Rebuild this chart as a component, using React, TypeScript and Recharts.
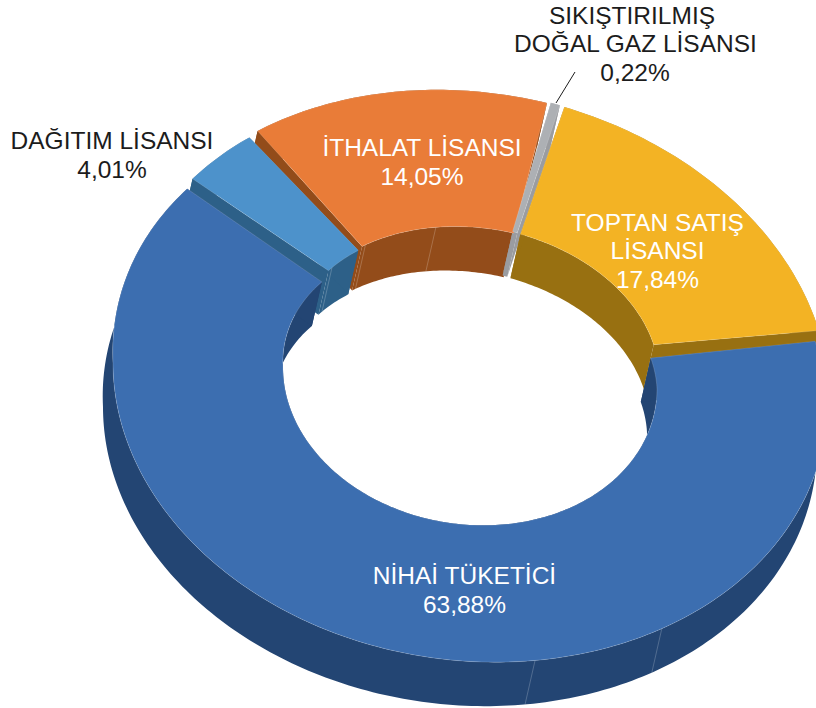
import React from "react";
import { PieChart, Pie } from "recharts";

const categories = ["NİHAİ TÜKETİCİ", "DAĞITIM LİSANSI", "İTHALAT LİSANSI", "SIKIŞTIRILMIŞ DOĞAL GAZ LİSANSI", "TOPTAN SATIŞ LİSANSI"];
const shares = [63.88, 4.01, 14.05, 0.22, 17.84];
const data = categories.map((name, i) => ({ name, value: shares[i] }));

const topColors = ["#3C6EB0", "#4D92CB", "#E97C38", "#ADB0B4", "#F3B324"];
const wallColors = ["#234573", "#2D6088", "#934C1A", "#9A9CA0", "#987011"];
const explode = [[0, 0], [8, -12.5], [7, -14], [0.5, -17], [2, -16]];
const angleTweak = [[-1.7, 1], [0.3, -0.9], [1, -0.4], [1.3, 2.0], [2.5, -0.6]];
const outerSeams = [[147.5, 169.5], [], [], [], []];
const innerSeams = [[], [311], [325.7, 349.6], [], []];

const labelLines = [
  { lines: ["NİHAİ TÜKETİCİ", "63,88%"], x: [464.5, 464.5], y: [584, 613], fill: "#fff" },
  { lines: ["DAĞITIM LİSANSI", "4,01%"], x: [112, 112], y: [149, 178], fill: "#1c1c1c" },
  { lines: ["İTHALAT LİSANSI", "14,05%"], x: [422, 422], y: [156, 185], fill: "#fff" },
  { lines: ["SIKIŞTIRILMIŞ", "DOĞAL GAZ LİSANSI", "0,22%"], x: [632, 635.5, 635], y: [24, 52, 81], fill: "#1c1c1c" },
  { lines: ["TOPTAN SATIŞ", "LİSANSI", "17,84%"], x: [657.5, 657.5, 657.5], y: [231, 259, 288], fill: "#fff" },
];

const OUTER_SQUASH = 0.78, INNER_BACK_SQUASH = 0.733, INNER_FRONT_SQUASH = 0.786, INNER_LIFT = 5;
const BACK_SKEW_X = -0.04, SKEW_Y = 0.056;
const DEPTH: [number, number] = [-10, 44];
const RAD = Math.PI / 180;

function pt(p: any, theta: number, radius: number, i: number, z: number): [number, number] {
  const s = Math.sin(theta * RAD), c = Math.cos(theta * RAD);
  const inner = radius === p.innerRadius;
  const squash = inner ? (c >= 0 ? INNER_BACK_SQUASH : INNER_FRONT_SQUASH) : OUTER_SQUASH;
  const skewX = c >= 0 ? BACK_SKEW_X : 0;
  return [
    p.cx + radius * (s + skewX * c) + explode[i][0] + z * DEPTH[0],
    p.cy - (inner ? INNER_LIFT : 0) + radius * (-squash * c + SKEW_Y * s) + explode[i][1] + z * DEPTH[1],
  ];
}
function arc(p: any, t0: number, t1: number, radius: number, i: number, z: number) {
  const n = Math.max(1, Math.ceil(Math.abs(t1 - t0)));
  const out: [number, number][] = [];
  for (let k = 0; k <= n; k++) out.push(pt(p, t0 + ((t1 - t0) * k) / n, radius, i, z));
  return out;
}
const toPath = (pts: [number, number][]) => "M" + pts.map((q) => q[0].toFixed(2) + " " + q[1].toFixed(2)).join("L") + "Z";
const thetas = (p: any) => [90 - p.startAngle + angleTweak[p.index][0], 90 - p.endAngle + angleTweak[p.index][1]];

function Walls(p: any) {
  const i = p.index;
  const [t0, t1] = thetas(p);
  const ri = p.innerRadius, ro = p.outerRadius;
  const fill = wallColors[i];
  const strips = [
    [...arc(p, t0, t1, ro, i, 0), ...arc(p, t1, t0, ro, i, 1)],
    [...arc(p, t0, t1, ri, i, 0), ...arc(p, t1, t0, ri, i, 1)],
    [pt(p, t0, ri, i, 0), pt(p, t0, ro, i, 0), pt(p, t0, ro, i, 1), pt(p, t0, ri, i, 1)],
    [pt(p, t1, ri, i, 0), pt(p, t1, ro, i, 0), pt(p, t1, ro, i, 1), pt(p, t1, ri, i, 1)],
  ] as [number, number][][];
  const seam = (t: number, r: number, k: string) => {
    const a = pt(p, t, r, i, 0), b = pt(p, t, r, i, 1);
    return <line key={k} x1={a[0]} y1={a[1]} x2={b[0]} y2={b[1]} stroke="#fff" strokeOpacity={0.3} strokeWidth={0.7} />;
  };
  return (
    <g>
      {strips.map((s, k) => <path key={k} d={toPath(s)} fill={fill} />)}
      {outerSeams[i].map((t, k) => seam(t, ro, "o" + k))}
      {innerSeams[i].map((t, k) => seam(t, ri, "i" + k))}
    </g>
  );
}
function Face(p: any) {
  const i = p.index;
  const [t0, t1] = thetas(p);
  const d = toPath([...arc(p, t0, t1, p.outerRadius, i, 0), ...arc(p, t1, t0, p.innerRadius, i, 0)]);
  return <path d={d} fill={topColors[i]} stroke="#fff" strokeOpacity={0.25} strokeWidth={0.6} />;
}
const only = (Comp: any, test: (i: number) => boolean) => (p: any) => (test(p.index) ? <Comp {...p} /> : <g />);

const FONT = '"Liberation Sans", Arial, sans-serif';
function renderLabel(p: any) {
  const l = labelLines[p.index];
  return (
    <g key={p.index}>
      {p.index === 3 && <line x1={575} y1={72} x2={556} y2={103} stroke="#1c1c1c" strokeWidth={1} />}
      {l.lines.map((t, k) => (
        <text key={k} x={l.x[k]} y={l.y[k]} textAnchor="middle" fontFamily={FONT} fontSize={24.5} fill={l.fill}>{t}</text>
      ))}
    </g>
  );
}

const common = {
  data, dataKey: "value", nameKey: "name", cx: 470, cy: 383, innerRadius: 187, outerRadius: 357,
  startAngle: 11, endAngle: -349, stroke: "none", isAnimationActive: false, labelLine: false,
} as const;

export default function App() {
  return (
    <div style={{ position: "absolute", left: 0, top: 0, width: 816, height: 708, overflow: "hidden" }}>
      <PieChart width={816} height={708} margin={{ top: 0, right: 0, bottom: 0, left: 0 }}>
        <Pie {...common} shape={only(Walls, (i) => i >= 2)} />
        <Pie {...common} shape={only(Walls, (i) => i === 1)} />
        <Pie {...common} shape={only(Walls, (i) => i === 0)} />
        <Pie {...common} shape={only(Face, (i) => i !== 0)} />
        <Pie {...common} shape={only(Face, (i) => i === 0)} label={renderLabel} />
      </PieChart>
    </div>
  );
}
